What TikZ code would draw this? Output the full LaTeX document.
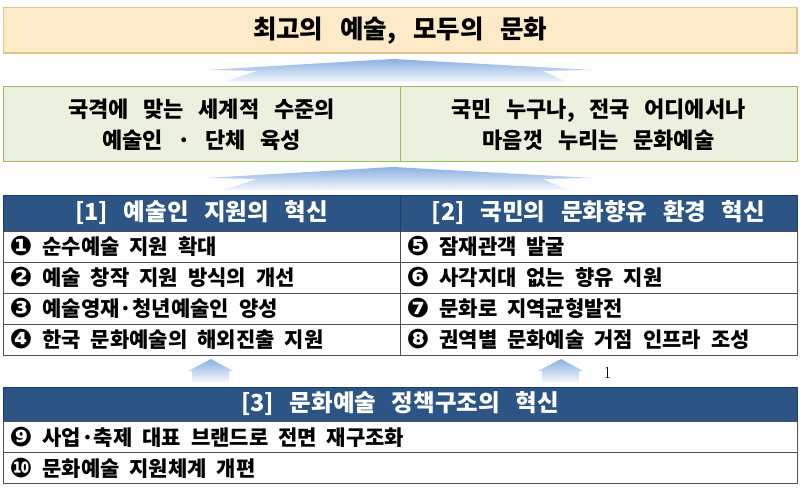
\documentclass[tikz,border=0pt]{standalone}
\usepackage{fontspec}
\newfontfamily\kr{Noto Sans CJK KR}[WordSpace=2.9]
\newfontfamily\dv{DejaVu Sans}

\definecolor{titlefill}{RGB}{253,234,200}
\definecolor{titleline}{RGB}{226,196,140}
\definecolor{greenfill}{RGB}{235,241,222}
\definecolor{greenline}{RGB}{155,187,89}
\definecolor{navy}{RGB}{44,84,132}
\definecolor{navyline}{RGB}{30,60,100}
\definecolor{rowline}{RGB}{80,80,80}
\definecolor{arrowblue}{RGB}{138,177,226}

\newcommand{\circnum}[1]{\raisebox{-1pt}{\dv\bfseries\fontsize{27}{27}\selectfont #1}\hspace{10pt}}

\tikzset{
  titlebox/.style={draw=titleline, fill=titlefill, line width=1.2pt, minimum width=793.5pt, minimum height=45.5pt, font=\kr\bfseries\fontsize{25.5}{25.5}\selectfont},
  goalbox/.style={draw=greenline, fill=greenfill, line width=1pt, minimum width=397pt, minimum height=75pt, align=center, font=\kr\bfseries\fontsize{22}{31}\selectfont},
  headbox/.style={draw=navyline, fill=navy, text=white, line width=0.8pt, minimum width=397pt, minimum height=36pt, font=\kr\bfseries\fontsize{23.5}{23.5}\selectfont},
  itembox/.style={draw=rowline, fill=white, line width=0.8pt, text width=384pt, inner xsep=6.5pt, inner ysep=0pt, minimum height=31pt, font=\kr\bfseries\fontsize{21}{21}\selectfont, execute at begin node={\spaceskip=10pt plus 2pt minus 1pt\relax}},
  upshade/.style={top color=arrowblue, bottom color=arrowblue!10},
}

\begin{document}
\begin{tikzpicture}[x=1pt, y=-1pt]
    \useasboundingbox (0,0) rectangle (800,489);

    \node [titlebox] (vision) at (400.25,30.25) {최고의 예술, 모두의 문화};

    % wide arrows
    \shade [upshade] (206,70) -- (393,59) -- (593,70) -- (543,71) -- (567,82) -- (223,82) -- (257,71) -- cycle;
    \shade [upshade] (206,178) -- (393,167) -- (593,178) -- (543,179) -- (567,190) -- (223,190) -- (257,179) -- cycle;

    \node [goalbox] (goalA) at (201.5,124.5) {국격에 맞는 세계적 수준의\\예술인 · 단체 육성};
    \node [goalbox] (goalB) at (598.5,124.5) {국민 누구나, 전국 어디에서나\\마음껏 누리는 문화예술};

    \node [headbox] (headA) at (201.5,213) {[1] 예술인 지원의 혁신};
    \node [headbox] (headB) at (598.5,213) {[2] 국민의 문화향유 환경 혁신};

    \node [itembox] (itemA1) at (201.5,246.5) {\circnum{❶}순수예술 지원 확대};
    \node [itembox] (itemA2) at (201.5,277.5) {\circnum{❷}예술 창작 지원 방식의 개선};
    \node [itembox] (itemA3) at (201.5,308.5) {\circnum{❸}예술영재·청년예술인 양성};
    \node [itembox] (itemA4) at (201.5,339.5) {\circnum{❹}한국 문화예술의 해외진출 지원};

    \node [itembox] (itemB1) at (598.5,246.5) {\circnum{❺}잠재관객 발굴};
    \node [itembox] (itemB2) at (598.5,277.5) {\circnum{❻}사각지대 없는 향유 지원};
    \node [itembox] (itemB3) at (598.5,308.5) {\circnum{❼}문화로 지역균형발전};
    \node [itembox] (itemB4) at (598.5,339.5) {\circnum{❽}권역별 문화예술 거점 인프라 조성};

    % small arrows
    \shade [upshade] (211,359) -- (233,371) -- (229,371) -- (229,382) -- (192,382) -- (192,371) -- (188,371) -- cycle;
    \shade [upshade] (561,359) -- (583,371) -- (579,371) -- (579,382) -- (542,382) -- (542,371) -- (538,371) -- cycle;
    \node (pagenum) at (607.5,373) {\fontsize{17}{17}\selectfont 1};

    \node [headbox, minimum width=794pt, minimum height=34pt] (headC) at (400,404) {[3] 문화예술 정책구조의 혁신};
    \node [itembox, text width=781pt] (itemC1) at (400,437) {\circnum{❾}사업·축제 대표 브랜드로 전면 재구조화};
    \node [itembox, text width=781pt] (itemC2) at (400,468) {\circnum{❿}문화예술 지원체계 개편};
\end{tikzpicture}
\end{document}
